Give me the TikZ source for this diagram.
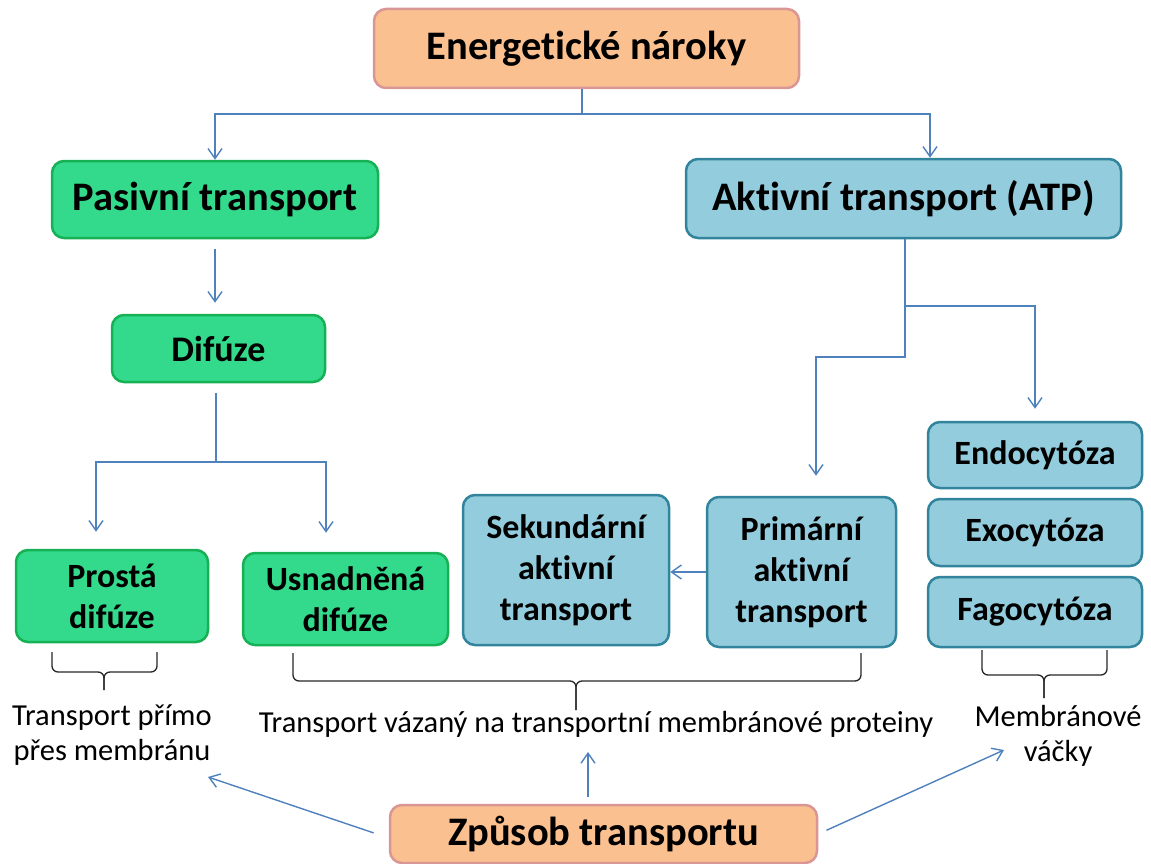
\documentclass[tikz,border=0pt]{standalone}
\usepackage{fontspec}
\setmainfont{Carlito}[Ligatures=NoCommon]
\usetikzlibrary{arrows.meta,calc}
\definecolor{peach}{HTML}{FAC090}
\definecolor{peachb}{HTML}{D99694}
\definecolor{grn}{HTML}{33DA8C}
\definecolor{grnb}{HTML}{16B055}
\definecolor{blu}{HTML}{93CDDD}
\definecolor{blub}{HTML}{31849B}
\definecolor{arrc}{HTML}{4F81BD}
\begin{document}
\begin{tikzpicture}[x=1pt,y=-1pt,
 box/.style={rectangle, rounded corners=12pt, line width=2.5pt, inner sep=0pt, align=center, text=black},
 peachbox/.style={box, fill=peach, draw=peachb},
 greenbox/.style={box, fill=grn, draw=grnb},
 bluebox/.style={box, fill=blu, draw=blub},
 big/.style={font=\bfseries\fontsize{40.5}{48}\selectfont},
 mid/.style={font=\bfseries\fontsize{34}{41}\selectfont},
 dif/.style={font=\bfseries\fontsize{36}{43}\selectfont},
 ln/.style={draw=arrc, line width=1.4pt},
 arr/.style={ln, -{Straight Barb[length=10pt,width=14pt]}},
 brc/.style={draw=black!85, line width=1.3pt, rounded corners=6pt},
 lbl/.style={font=\fontsize{30.5}{35}\selectfont, align=center, inner sep=0pt}
]
\useasboundingbox (0,0) rectangle (1151,864);

% boxes
\node[peachbox, big, minimum width=425pt, minimum height=79pt] (ener) at (586.5,48.5) {Energetické nároky};
\node[greenbox, big, minimum width=326pt, minimum height=77pt] (pas) at (215,199.5) {Pasivní transport};
\node[bluebox, big, minimum width=435pt, minimum height=79pt] (akt) at (903.5,198.5) {Aktivní transport (ATP)};
\node[greenbox, dif, minimum width=213pt, minimum height=67pt] (dfz) at (218.5,348.5) {Difúze};
\node[greenbox, mid, minimum width=192pt, minimum height=92pt] (pro) at (112,596) {Prostá\\difúze};
\node[greenbox, mid, minimum width=205pt, minimum height=92pt] (usn) at (345.5,599) {Usnadněná\\difúze};
\node[bluebox, mid, minimum width=206pt, minimum height=150pt] (sek) at (566,570) {Sekundární\\aktivní\\transport};
\node[bluebox, mid, minimum width=189pt, minimum height=150pt] (pri) at (801.5,572) {Primární\\aktivní\\transport};
\node[bluebox, mid, minimum width=214pt, minimum height=66pt] (endo) at (1035,455) {Endocytóza};
\node[bluebox, mid, minimum width=214pt, minimum height=67pt] (exo) at (1035,532.5) {Exocytóza};
\node[bluebox, mid, minimum width=214pt, minimum height=70pt] (fago) at (1035,612) {Fagocytóza};
\node[peachbox, big, minimum width=427pt, minimum height=58pt] (zpu) at (603.5,834) {Způsob transportu};

% labels
\node[lbl] (tp) at (112,735) {Transport přímo\\přes membránu};
\node[lbl] (tv) at (596,724) {Transport vázaný na transportní membránové proteiny};
\node[lbl] (mv) at (1058,736) {Membránové\\váčky};

% top tree
\coordinate (t1) at (582,114);
\coordinate (t2) at (930,114);
\draw[ln] (t1 |- ener.south) -- (t1);
\draw[arr] (t1) -| (pas.north);
\draw[arr] (t1) -- (t2) -- (t2 |- akt.north);

% passive
\draw[arr, shorten <=10pt, shorten >=11pt] (pas.south) -- (pas.south |- dfz.north);
\coordinate (d1) at (216,462);
\coordinate (d2) at (96,462);
\coordinate (d3) at (326,462);
\draw[ln, shorten <=10pt] (d1 |- dfz.south) -- (d1);
\draw[arr, shorten >=17pt] (d1) -- (d2) -- (d2 |- pro.north);
\draw[arr, shorten >=19pt] (d1) -- (d3) -- (d3 |- usn.north);

% active
\coordinate (a1) at (905,357);
\coordinate (a2) at (905,306);
\coordinate (a3) at (816,357);
\coordinate (a4) at (1035,306);
\draw[arr, shorten >=20pt] (a1 |- akt.south) -- (a1) -- (a3) -- (a3 |- pri.north);
\draw[arr, shorten >=12pt] (a2) -- (a4) -- (a4 |- endo.north);
\draw[arr] (pri.west) -- (pri.west -| sek.east);

% braces
\draw[brc] (52,652) -- (52,672) -- (104,672) -- (104,690);
\draw[brc] (157,652) -- (157,672) -- (104,672) -- (104,690);
\draw[brc] (293,653) -- (293,681) -- (576,681) -- (576,710);
\draw[brc] (861,653) -- (861,681) -- (576,681) -- (576,710);
\draw[brc] (982,650) -- (982,675) -- (1044,675) -- (1044,698);
\draw[brc] (1107,650) -- (1107,675) -- (1044,675) -- (1044,698);

% bottom arrows
\coordinate (c1) at (208,777);
\coordinate (c2) at (588,752);
\coordinate (c3) at (1004,750);
\draw[arr, shorten <=16pt] ([yshift=-4pt]zpu.west) -- (c1);
\draw[arr, shorten <=7pt] (c2 |- zpu.north) -- (c2);
\draw[arr, shorten <=9pt] (zpu.east) -- (c3);
\end{tikzpicture}
\end{document}
